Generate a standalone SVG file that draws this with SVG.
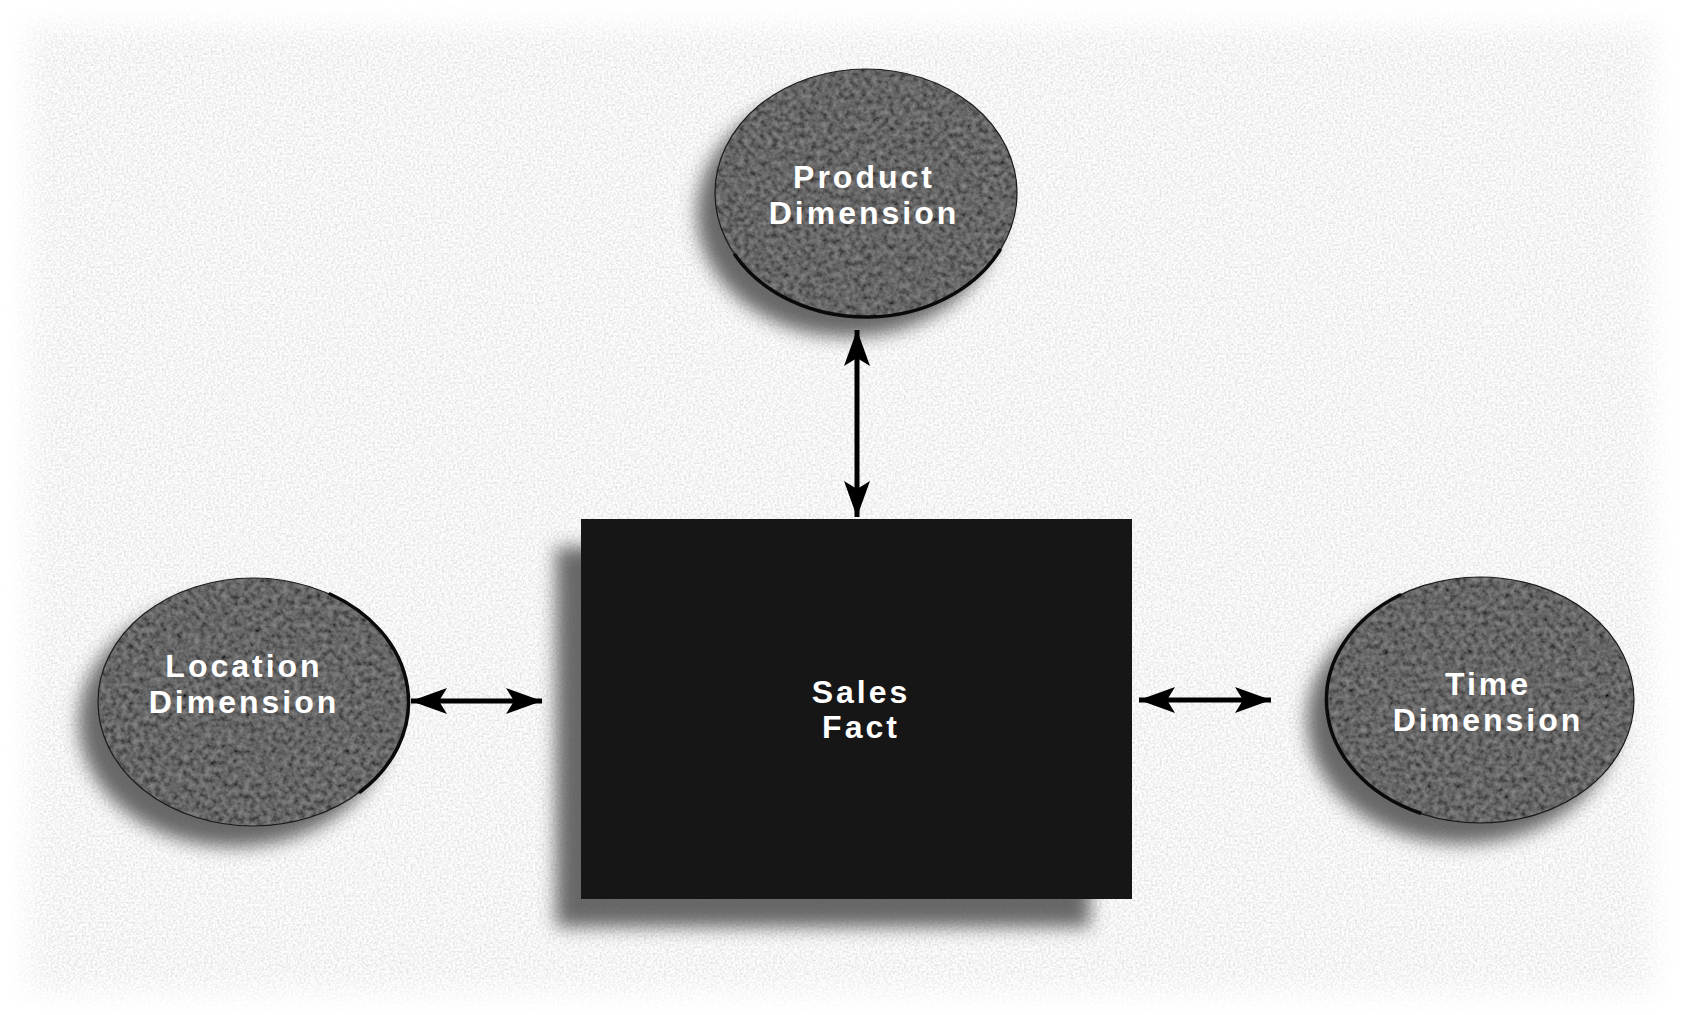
<svg xmlns="http://www.w3.org/2000/svg" width="1682" height="1015" viewBox="0 0 1682 1015">
  <defs>
    <filter id="paper" x="-5%" y="-5%" width="110%" height="110%">
      <feGaussianBlur in="SourceGraphic" stdDeviation="14" result="soft"/>
      <feTurbulence type="fractalNoise" baseFrequency="0.45" numOctaves="2" seed="4" result="noise"/>
      <feColorMatrix in="noise" type="matrix" values="0.5 0 0 0 0.66  0.5 0 0 0 0.66  0.5 0 0 0 0.66  0 0 0 0 1" result="gray"/>
      <feComposite in="gray" in2="soft" operator="in"/>
    </filter>
    <filter id="grain" x="0" y="0" width="100%" height="100%">
      <feTurbulence type="fractalNoise" baseFrequency="0.18" numOctaves="3" seed="7" result="noise"/>
      <feColorMatrix in="noise" type="matrix" values="1 0 0 0 0  1 0 0 0 0  1 0 0 0 0  0 0 0 0 1" result="ng"/>
      <feComposite in="SourceGraphic" in2="ng" operator="arithmetic" k1="0" k2="1" k3="0.3" k4="-0.14" result="mix"/>
      <feComposite in="mix" in2="SourceGraphic" operator="in"/>
    </filter>
    <filter id="shadow" x="-30%" y="-30%" width="160%" height="160%">
      <feGaussianBlur stdDeviation="9"/>
    </filter>
    <marker id="head" viewBox="-40 -16 44 32" markerWidth="44" markerHeight="32" refX="0" refY="0" orient="auto-start-reverse" markerUnits="userSpaceOnUse">
      <path d="M0,0 L-36,-13 L-28,0 L-36,13 Z" fill="#000"/>
    </marker>
    <style>
      .paper { fill: #ffffff; }
      .dim { fill: #626262; filter: url(#grain); }
      .edge { fill: none; stroke: #1a1a1a; stroke-width: 1.2; }
      .rim { fill: none; stroke: #0a0a0a; stroke-width: 3.5; stroke-linecap: round; }
      .shd { fill: #505050; opacity: 0.85; filter: url(#shadow); }
      .fact { fill: #161616; }
      .lbl { font-family: "Liberation Sans", Arial, sans-serif; font-weight: 700; font-size: 32px; letter-spacing: 3px; fill: #ffffff; text-anchor: middle; }
      .conn { stroke: #000; stroke-width: 5; fill: none; marker-start: url(#head); marker-end: url(#head); }
    </style>
  </defs>

  <rect x="0" y="0" width="1682" height="1015" fill="#ffffff"/>
  <rect x="28" y="26" width="1626" height="966" class="paper" filter="url(#paper)"/>

  <g id="product">
    <ellipse cx="848" cy="213" rx="151" ry="124" class="shd"/>
    <ellipse cx="866" cy="193" rx="151" ry="124" class="dim"/>
    <ellipse cx="866" cy="193" rx="151" ry="124" class="edge"/>
    <path d="M735,255 A151,124 0 0 0 1000,250" class="rim"/>
    <text class="lbl" x="864" y="188">Product</text>
    <text class="lbl" x="864" y="224">Dimension</text>
  </g>

  <g id="location">
    <ellipse cx="234" cy="722" rx="155" ry="125" class="shd"/>
    <ellipse cx="253" cy="702" rx="155" ry="124" class="dim"/>
    <ellipse cx="253" cy="702" rx="155" ry="124" class="edge"/>
    <path d="M330,594 A155,124 0 0 1 360,792" class="rim"/>
    <text class="lbl" x="244" y="677">Location</text>
    <text class="lbl" x="244" y="713">Dimension</text>
  </g>

  <g id="time">
    <ellipse cx="1462" cy="720" rx="155" ry="124" class="shd"/>
    <ellipse cx="1480" cy="700" rx="154" ry="123" class="dim"/>
    <ellipse cx="1480" cy="700" rx="154" ry="123" class="edge"/>
    <path d="M1400,595 A154,123 0 0 0 1420,813" class="rim"/>
    <text class="lbl" x="1488" y="695">Time</text>
    <text class="lbl" x="1488" y="731">Dimension</text>
  </g>

  <g id="sales-fact">
    <rect x="556" y="547" width="534" height="380" class="shd"/>
    <rect x="581" y="519" width="551" height="380" class="fact"/>
    <text class="lbl" x="861" y="703">Sales</text>
    <text class="lbl" x="861" y="738">Fact</text>
  </g>

  <g id="connectors">
    <line x1="857" y1="330" x2="857" y2="517" class="conn"/>
    <line x1="411" y1="701" x2="542" y2="701" class="conn"/>
    <line x1="1139" y1="700" x2="1271" y2="700" class="conn"/>
  </g>
</svg>
